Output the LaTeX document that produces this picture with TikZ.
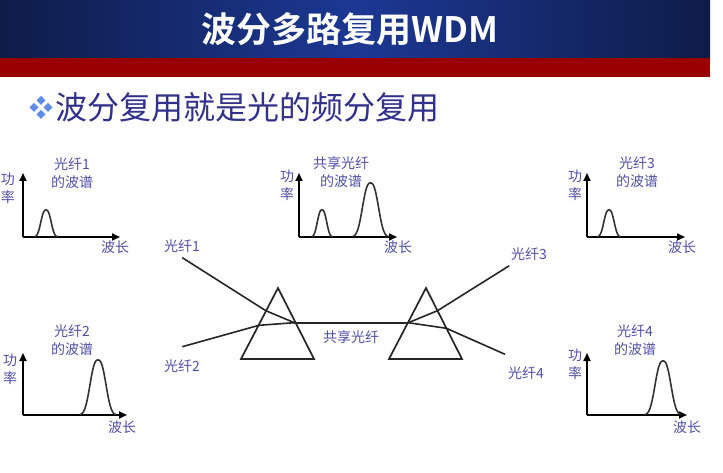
\documentclass[tikz,border=0pt]{standalone}
\usepackage{fontspec}
\newfontfamily\cjk{Noto Sans CJK SC}[BoldFont={Noto Sans CJK SC Bold}]
\usetikzlibrary{arrows.meta}
\definecolor{navy}{RGB}{14,28,72}
\definecolor{midblue}{RGB}{28,56,148}
\definecolor{bandred}{RGB}{153,0,0}
\definecolor{lblblue}{RGB}{80,80,170}
\definecolor{subblue}{RGB}{50,50,140}
\definecolor{dotblue}{RGB}{95,140,235}
\begin{document}
\begin{tikzpicture}[x=1pt,y=-1pt,
  lbl/.style={text=lblblue,font=\cjk\fontsize{14}{18}\selectfont,inner sep=0pt,align=center},
  axis/.style={line width=1.8pt,-{Triangle[length=8pt,width=7pt]}},
  peak/.style={line width=1.6pt,draw=black!80},
  fiber/.style={line width=1.6pt,draw=black!85},
  prism/.style={line width=1.7pt,draw=black!85,line join=miter},
  dot/.style={fill=dotblue}]
  \useasboundingbox[fill=white] (0,0) rectangle (723,473);
  % banner
  \shade[left color=navy,right color=navy,middle color=midblue] (0,0) rectangle (710,58);
  \fill[bandred] (0,58) rectangle (710,77);
  \node[text=white,font=\cjk\bfseries\fontsize{35}{40}\selectfont] (title) at (350,29){波分多路复用WDM};
  % subtitle with bullet
  \fill[dot] (41,96) -- (45.5,100.5) -- (41,105) -- (36.5,100.5) -- cycle;
  \fill[dot] (34,103) -- (38.5,107.5) -- (34,112) -- (29.5,107.5) -- cycle;
  \fill[dot] (48,103) -- (52.5,107.5) -- (48,112) -- (43.5,107.5) -- cycle;
  \fill[dot] (41,110) -- (45.5,114.5) -- (41,119) -- (36.5,114.5) -- cycle;
  \node[anchor=west,text=subblue,font=\cjk\fontsize{32}{38}\selectfont,inner sep=0pt] (sub) at (55,107){波分复用就是光的频分复用};

  % spectrum of fiber 1
  \coordinate (o1) at (23,237);
  \draw[axis] (o1) -- ++(0,-64);
  \draw[axis] (o1) -- ++(97,0);
  \draw[peak] plot[domain=-2.1:2.1,samples=81] ({46+5.5*\x},{237-27*exp(-0.693*abs(\x)^2.6)});
  \node[lbl] (pw1) at (8,188){功\\率};
  \node[lbl] (sp1) at (72,173){光纤1\\的波谱};
  \node[lbl] (wl1) at (115,247){波长};

  % spectrum of shared fiber
  \coordinate (o2) at (299,237);
  \draw[axis] (o2) -- ++(0,-64);
  \draw[axis] (o2) -- ++(98,0);
  \draw[peak] plot[domain=-2.1:2.1,samples=81] ({322+5*\x},{237-27*exp(-0.693*abs(\x)^2.6)});
  \draw[peak] plot[domain=-2.1:2.1,samples=81] ({370.5+8.5*\x},{237-54*exp(-0.693*abs(\x)^2.6)});
  \node[lbl] (pw2) at (287,185){功\\率};
  \node[lbl] (sp2) at (341,172){共享光纤\\的波谱};
  \node[lbl] (wl2) at (398,247){波长};

  % spectrum of fiber 3
  \coordinate (o3) at (587,237);
  \draw[axis] (o3) -- ++(0,-64);
  \draw[axis] (o3) -- ++(98,0);
  \draw[peak] plot[domain=-2.1:2.1,samples=81] ({609+5.5*\x},{237-27*exp(-0.693*abs(\x)^2.6)});
  \node[lbl] (pw3) at (575,185){功\\率};
  \node[lbl] (sp3) at (637,172){光纤3\\的波谱};
  \node[lbl] (wl3) at (682,247){波长};

  % spectrum of fiber 2
  \coordinate (o4) at (23,415);
  \draw[axis] (o4) -- ++(0,-62);
  \draw[axis] (o4) -- ++(104,0);
  \draw[peak] plot[domain=-2.1:2.1,samples=81] ({98+8.5*\x},{415-55*exp(-0.693*abs(\x)^2.6)});
  \node[lbl] (pw4) at (10,369){功\\率};
  \node[lbl] (sp4) at (72,340){光纤2\\的波谱};
  \node[lbl] (wl4) at (122,427){波长};

  % spectrum of fiber 4
  \coordinate (o5) at (587,415);
  \draw[axis] (o5) -- ++(0,-62);
  \draw[axis] (o5) -- ++(100,0);
  \draw[peak] plot[domain=-2.1:2.1,samples=81] ({663+8.5*\x},{415-54*exp(-0.693*abs(\x)^2.6)});
  \node[lbl] (pw5) at (575,364){功\\率};
  \node[lbl] (sp5) at (635,340){光纤4\\的波谱};
  \node[lbl] (wl5) at (687,427){波长};

  % prisms
  \draw[prism] (278,288) -- (241,359) -- (314,359) -- cycle;
  \draw[prism] (426,288) -- (389,359) -- (462,359) -- cycle;

  % fibers
  \coordinate (f1) at (182.3,257.7);
  \coordinate (b1) at (265.8,310.7);
  \coordinate (f2) at (182.3,346.7);
  \coordinate (b2) at (259,325.3);
  \coordinate (jl) at (294.3,322.7);
  \coordinate (jr) at (408.3,322.7);
  \coordinate (b3) at (437.5,310.7);
  \coordinate (f3) at (509.3,265.7);
  \coordinate (b4) at (446.4,328.3);
  \coordinate (f4) at (505,354.3);
  \draw[fiber] (f1) -- (b1) -- (jl);
  \draw[fiber] (f2) -- (b2) -- (jl);
  \draw[fiber] (jl) -- (jr);
  \draw[fiber] (jr) -- (b3) -- (f3);
  \draw[fiber] (jr) -- (b4) -- (f4);
  \node[lbl] (n1) at (182,246){光纤1};
  \node[lbl] (n2) at (182,366){光纤2};
  \node[lbl] (n3) at (529,254){光纤3};
  \node[lbl] (n4) at (526,373){光纤4};
  \node[lbl] (ns) at (351,337){共享光纤};
\end{tikzpicture}
\end{document}
